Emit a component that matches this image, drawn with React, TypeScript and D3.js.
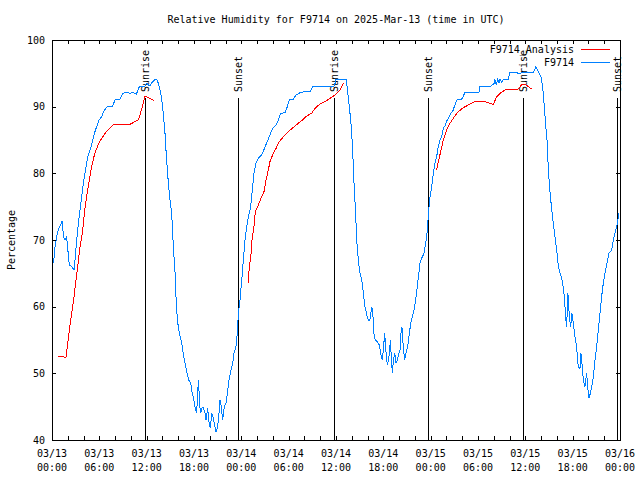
import React from "react";
import * as d3 from "d3";

const chartTitle = "Relative Humidity for F9714 on 2025-Mar-13 (time in UTC)";
const yAxisLabel = "Percentage";
const startTime = "2025-03-13T00:00:00Z";
const endTime = "2025-03-16T00:00:00Z";
const yTickValues = [40, 50, 60, 70, 80, 90, 100];
const xLabelHours = [0, 6, 12, 18, 24, 30, 36, 42, 48, 54, 60, 66, 72];
const xMinorStepHours = 2;
const sunriseHours = [11.75, 35.73, 59.72];
const sunsetHours = [23.62, 47.63, 71.65];
const seriesNames = ["F9714_Analysis", "F9714"];
const seriesColors = ["#ff0000", "#0080ff"];

// [hours since 03/13 00:00 UTC, relative humidity %]
const stationSeries: [number, number][] = [
  [0.2, 66.5], [0.38, 69], [0.59, 70.5], [0.8, 71.6], [1.1, 72.25], [1.31, 72.9], [1.44, 70.5], [1.65, 70],
  [1.86, 70.5], [1.99, 68.75], [2.2, 66.25], [2.49, 66], [2.79, 65.5], [2.92, 67], [3.13, 70], [3.34, 72.5],
  [3.55, 74.5], [3.76, 76.5], [3.97, 78.5], [4.18, 80], [4.39, 81.5], [4.6, 82.75], [4.9, 83.75], [5.16, 85],
  [5.37, 86], [5.66, 87], [5.96, 88], [6.3, 88.5], [6.51, 89.25], [7.01, 90], [7.65, 90], [7.99, 91],
  [8.62, 91.1], [8.96, 92], [9.55, 92.15], [9.89, 92], [10.2, 92.15], [10.7, 91.9], [11.07, 93], [11.7, 93],
  [12.0, 93.5], [12.4, 93.1], [12.6, 93.5], [13.05, 94.1], [13.35, 94], [13.7, 92.5], [13.9, 91.25], [14.1, 89],
  [14.3, 86.5], [14.5, 82.5], [14.75, 78.5], [14.96, 76], [15.17, 74], [15.38, 69], [15.59, 65.25], [15.72, 61.5],
  [15.89, 58], [16.14, 56], [16.44, 54.5], [16.64, 53], [16.86, 51.5], [17.07, 50.25], [17.32, 49], [17.58, 48.5],
  [17.75, 47.25], [17.91, 46.5], [18.13, 45], [18.34, 44], [18.47, 47.5], [18.6, 49], [18.68, 45.5], [18.85, 44],
  [18.97, 44.75], [19.18, 44.9], [19.4, 44], [19.52, 43], [19.73, 44.75], [19.9, 42.75], [20.07, 41.75], [20.24, 44],
  [20.41, 43.5], [20.58, 42.5], [20.79, 41.25], [20.96, 41.75], [21.13, 43.5], [21.3, 46], [21.46, 45], [21.63, 43],
  [21.84, 45], [22.06, 45.5], [22.22, 47], [22.44, 49], [22.65, 50.25], [22.9, 51.5], [23.07, 53], [23.32, 54],
  [23.49, 56], [23.62, 59], [23.83, 61], [24.05, 64], [24.26, 67], [24.46, 70], [24.68, 72], [24.89, 73.5],
  [25.1, 74.5], [25.19, 75], [25.3, 76.5], [25.43, 78], [25.6, 80], [25.86, 81.5], [26.15, 82.25], [26.58, 82.75],
  [26.78, 83.25], [27.0, 84], [27.29, 84.75], [27.63, 85.75], [27.97, 86.75], [28.4, 87.25], [28.69, 88], [28.99, 89],
  [29.53, 89.1], [29.83, 90], [30.08, 91], [30.59, 91.1], [30.93, 91.75], [31.52, 92.15], [32.07, 92.25], [32.7, 92.25],
  [33.05, 93], [35.8, 93.1], [36.0, 94.1], [37.27, 94.1], [37.43, 92.75], [37.69, 90], [37.9, 87.5], [38.07, 84.5],
  [38.2, 81], [38.32, 77.5], [38.49, 74], [38.62, 70], [38.83, 67], [39.04, 65], [39.26, 64], [39.47, 62],
  [39.68, 60], [39.9, 58.75], [40.1, 58], [40.3, 58], [40.52, 60], [40.65, 59.25], [40.81, 56], [40.98, 55],
  [41.24, 54.75], [41.5, 54.25], [41.7, 52.75], [41.87, 52], [42.0, 53.5], [42.17, 56], [42.34, 53.25], [42.5, 51.25],
  [42.64, 52], [42.77, 53], [42.9, 55], [43.0, 52.5], [43.15, 50], [43.27, 52], [43.45, 53], [43.6, 51.5],
  [43.77, 52], [43.95, 53], [44.1, 53.25], [44.24, 56], [44.36, 57], [44.53, 54], [44.7, 52], [44.87, 53],
  [45.08, 54], [45.3, 56], [45.47, 57.5], [45.68, 58.5], [45.9, 59.5], [46.1, 61], [46.3, 63], [46.5, 65],
  [46.65, 66.5], [46.86, 67.25], [47.15, 68], [47.37, 69.5], [47.58, 71.5], [47.75, 74.5], [47.92, 76.5], [48.13, 78],
  [48.34, 80], [48.55, 81.5], [48.76, 82.5], [48.97, 84], [49.18, 85], [49.4, 85.5], [49.6, 86.75], [49.8, 87.1],
  [50.1, 88], [50.36, 88.5], [50.53, 89], [50.78, 89.25], [51.07, 90.25], [51.37, 91.1], [51.92, 91.1], [52.1, 91.5],
  [52.35, 92.15], [54.1, 92.1], [54.25, 93], [55.65, 93.1], [56.07, 93.5], [56.15, 94.1], [56.3, 93.25], [56.5, 94.1],
  [56.66, 93.5], [56.79, 94.1], [57.0, 93.6], [57.2, 94.1], [57.84, 94.1], [58.05, 95.1], [58.9, 95.1], [59.1, 95],
  [59.75, 95.1], [61.0, 95.1], [61.35, 96], [61.64, 95.25], [61.97, 94.5], [62.2, 93], [62.37, 90.5], [62.6, 87],
  [62.75, 85], [62.9, 81], [63.1, 77.5], [63.35, 74.5], [63.6, 72], [63.76, 70.5], [63.97, 68.5], [64.2, 66],
  [64.4, 65], [64.6, 64.25], [64.8, 63], [64.95, 61.5], [65.1, 58.5], [65.24, 57], [65.4, 62], [65.58, 58.5],
  [65.75, 57], [65.9, 59], [66.08, 57.5], [66.29, 55.5], [66.5, 54], [66.7, 51], [66.93, 50.75], [67.05, 53],
  [67.18, 51.5], [67.35, 49], [67.56, 48], [67.77, 50], [67.9, 48], [68.07, 46.25], [68.24, 47], [68.41, 48],
  [68.62, 49.5], [68.83, 52], [69.04, 54], [69.25, 56.5], [69.46, 59], [69.67, 61.5], [69.88, 63.5], [70.1, 65],
  [70.35, 66.5], [70.6, 68], [70.94, 68.5], [71.15, 70], [71.45, 71.5], [71.66, 72.5], [71.87, 74],
];

const analysisSeries: [number, number][] = [
  [0.8, 52.6], [1.31, 52.5], [1.77, 52.4], [1.94, 54], [2.2, 56.5], [2.49, 59], [2.79, 61.5], [3.04, 64],
  [3.25, 66], [3.55, 69], [3.85, 71], [4.1, 74], [4.39, 76.5], [4.73, 79], [5.03, 81], [5.37, 82.75],
  [5.75, 84], [6.17, 85], [6.72, 86], [7.27, 86.75], [7.77, 87.25], [8.41, 87.35], [9.89, 87.35], [10.52, 87.75],
  [10.94, 88], [11.15, 88.75], [11.45, 90], [11.79, 91.6], [12.08, 91.4], [12.42, 91.25], [12.93, 90.9],
  [24.89, 63.5], [25.0, 66], [25.19, 67.25], [25.35, 70], [25.6, 72], [25.77, 74.25], [26.15, 75.25], [26.58, 76.5],
  [26.87, 77.25], [27.13, 79], [27.42, 80.5], [27.63, 81.75], [27.97, 82.75], [28.4, 83.75], [28.82, 84.75], [29.33, 85.5],
  [29.97, 86.25], [30.59, 86.9], [31.1, 87.4], [31.65, 87.9], [32.07, 88.4], [32.5, 88.75], [32.92, 89], [33.34, 89.75],
  [33.97, 90.4], [34.6, 90.75], [35.24, 91.25], [35.87, 91.75], [36.1, 92], [36.5, 92.5], [36.93, 93.5],
  [48.76, 80.5], [48.97, 81.75], [49.27, 83.25], [49.6, 85], [50.02, 86.5], [50.45, 87.5], [50.96, 88.4], [51.5, 89.25],
  [52.14, 89.85], [52.77, 90.25], [53.6, 90.75], [54.89, 90.75], [55.94, 90.35], [56.37, 91.5], [56.79, 92], [57.42, 92.5],
  [58.27, 92.65], [59.1, 92.65], [59.5, 93.25], [59.94, 93.4], [60.36, 93], [60.87, 92.6],
];

const W = 640;
const H = 480;
const M = { left: 52, right: 620, top: 40, bottom: 440 };
const FONT = "'DejaVu Sans Mono', monospace";

export default function App() {
  const t0 = new Date(startTime);
  const t1 = new Date(endTime);
  const hourToDate = (h: number) => new Date(t0.getTime() + h * 3600000);
  const x = d3.scaleUtc().domain([t0, t1]).range([M.left, M.right]);
  const y = d3.scaleLinear().domain([40, 100]).range([M.bottom, M.top]);

  const line = d3
    .line<[number, number]>()
    .x((d) => x(hourToDate(d[0])))
    .y((d) => y(d[1]));

  const runs: [number, number][][] = [];
  analysisSeries.forEach((d, i) => {
    if (i === 0 || d[0] - analysisSeries[i - 1][0] > 3) runs.push([]);
    runs[runs.length - 1].push(d);
  });

  const minorTicks = d3.range(0, 72 + 0.001, xMinorStepHours).map(hourToDate);
  const fmtDay = d3.utcFormat("%m/%d");
  const fmtTime = d3.utcFormat("%H:%M");
  const tickLen = 4;
  const lineTop = 98;

  const markers = [
    ...sunriseHours.map((h) => ({ h, label: "Sunrise" })),
    ...sunsetHours.map((h) => ({ h, label: "Sunset" })),
  ];

  return (
    <svg
      width={W}
      height={H}
      style={{ position: "fixed", left: 0, top: 0, background: "#fff" }}
      fontFamily={FONT}
      fontSize={10}
    >
      <rect x={0} y={0} width={W} height={H} fill="#fff" />
      <text x={(M.left + M.right) / 2} y={23} textAnchor="middle" fill="#000">
        {chartTitle}
      </text>
      <text
        transform={`translate(11,${(M.top + M.bottom) / 2}) rotate(-90)`}
        textAnchor="middle"
        dy="0.35em"
        fill="#000"
      >
        {yAxisLabel}
      </text>

      {yTickValues.map((v) => {
        const yy = Math.round(y(v)) + 0.5;
        return (
          <g key={"y" + v}>
            <line x1={M.left} x2={M.left + tickLen} y1={yy} y2={yy} stroke="#000" />
            <line x1={M.right - tickLen} x2={M.right} y1={yy} y2={yy} stroke="#000" />
            <text x={M.left - 7} y={y(v)} dy="0.35em" textAnchor="end" fill="#000">
              {v}
            </text>
          </g>
        );
      })}

      {minorTicks.map((d, i) => {
        const xx = Math.round(x(d)) + 0.5;
        return (
          <g key={"xt" + i}>
            <line x1={xx} x2={xx} y1={M.bottom} y2={M.bottom - tickLen} stroke="#000" />
            <line x1={xx} x2={xx} y1={M.top} y2={M.top + tickLen} stroke="#000" />
          </g>
        );
      })}
      {xLabelHours.map((h) => {
        const d = hourToDate(h);
        return (
          <g key={"xl" + h} fill="#000">
            <text x={x(d)} y={457} textAnchor="middle">
              {fmtDay(d)}
            </text>
            <text x={x(d)} y={471} textAnchor="middle">
              {fmtTime(d)}
            </text>
          </g>
        );
      })}

      {markers.map((m, i) => {
        const xx = Math.round(x(hourToDate(m.h))) + 0.5;
        return (
          <g key={"m" + i}>
            <line x1={xx} x2={xx} y1={lineTop} y2={M.bottom} stroke="#000" />
            <text
              transform={`translate(${xx},${lineTop - 6}) rotate(-90)`}
              dy="0.35em"
              textAnchor="start"
              fill="#000"
            >
              {m.label}
            </text>
          </g>
        );
      })}

      {runs.map((r, i) => (
        <path
          key={"a" + i}
          d={line(r) || ""}
          fill="none"
          stroke={seriesColors[0]}
          strokeWidth={1}
          shapeRendering="crispEdges"
        />
      ))}
      <path
        d={line(stationSeries) || ""}
        fill="none"
        stroke={seriesColors[1]}
        strokeWidth={1}
        shapeRendering="crispEdges"
      />

      {seriesNames.map((name, i) => {
        const ly = 49.5 + i * 13;
        return (
          <g key={"lg" + i}>
            <text x={574} y={ly} dy="0.35em" textAnchor="end" fill="#000">
              {name}
            </text>
            <line x1={581} x2={610} y1={ly} y2={ly} stroke={seriesColors[i]} />
          </g>
        );
      })}

      <rect
        x={M.left + 0.5}
        y={M.top + 0.5}
        width={M.right - M.left}
        height={M.bottom - M.top}
        fill="none"
        stroke="#000"
      />
    </svg>
  );
}
